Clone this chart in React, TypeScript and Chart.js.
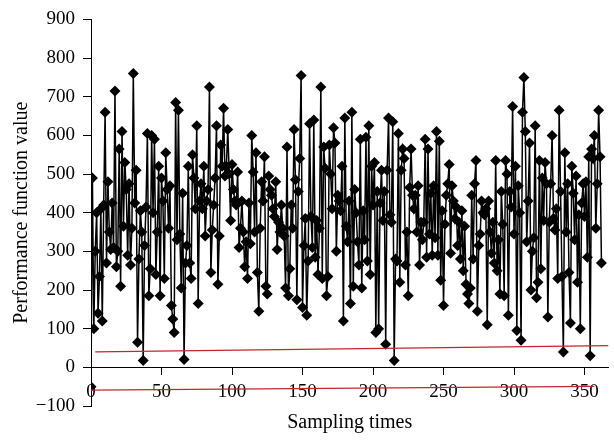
import React, { useEffect, useRef } from 'react';
import { Chart, registerables } from 'chart.js';

Chart.register(...registerables);

// Performance function value per sampling time (index = sampling time)
const performanceValues: number[] = [
  // 0-44
  -50, 490, 100, 300, 400, 140, 235, 410, 120, 420,
  660, 270, 480, 350, 305, 425, 310, 715, 260, 300,
  565, 210, 610, 365, 530, 460, 290, 475, 265, 360,
  760, 425, 510, 65, 280, 405, 350, 18, 315, 415,
  605, 185, 255, 600, 400,
  // 45-94
  590, 240, 350, 520, 185, 490, 430, 230, 555, 460,
  360, 470, 160, 125, 90, 685, 330, 665, 345, 205,
  450, 20, 270, 315, 520, 270, 230, 550, 490, 410,
  625, 165, 430, 475, 410, 520, 340, 430, 460, 725,
  245, 355, 420, 490, 625, 215, 340, 575, 520, 670,
  // 95-143
  495, 520, 615, 500, 380, 525, 460, 430, 420, 505,
  310, 360, 430, 350, 260, 325, 230, 425, 320, 600,
  505, 350, 555, 245, 145, 360, 480, 430, 545, 210,
  190, 495, 460, 445, 410, 390, 480, 305, 375, 350,
  420, 360, 340, 205, 570, 185, 255, 420, 360,
  // 144-192
  615, 485, 175, 455, 540, 755, 155, 315, 385, 135,
  275, 630, 390, 310, 640, 285, 380, 240, 360, 725,
  230, 570, 515, 185, 235, 575, 500, 410, 620, 580,
  300, 445, 430, 405, 520, 120, 645, 365, 325, 430,
  165, 660, 210, 460, 400, 325, 265, 590, 205,
  // 193-242
  405, 330, 595, 275, 625, 240, 520, 420, 530, 90,
  455, 100, 425, 510, 380, 455, 60, 510, 645, 395,
  375, 635, 18, 280, 275, 605, 220, 510, 565, 540,
  265, 350, 185, 465, 565, 445, 410, 445, 350, 470,
  265, 375, 330, 375, 590, 285, 565, 345, 450, 290,
  // 243-290
  470, 335, 610, 290, 585, 225, 405, 160, 370, 445,
  475, 525, 295, 470, 430, 385, 415, 315, 375, 280,
  405, 250, 365, 215, 190, 165, 205, 445, 280, 475,
  535, 145, 315, 345, 430, 400, 395, 410, 110, 430,
  350, 295, 375, 270, 535, 250, 330, 190,
  // 291-340
  455, 370, 185, 535, 500, 135, 455, 415, 675, 345,
  520, 95, 470, 400, 70, 660, 750, 610, 325, 430,
  580, 200, 300, 335, 625, 180, 220, 535, 255, 490,
  380, 530, 475, 130, 375, 475, 600, 385, 355, 410,
  230, 665, 455, 235, 40, 555, 350, 475, 245, 115,
  // 341-362
  520, 450, 330, 495, 220, 395, 100, 425, 475, 390,
  480, 285, 545, 30, 565, 540, 600, 360, 475, 665,
  545, 270,
];

// Red reference lines (endpoints)
const redUpperX = [3, 367];
const redUpperY = [40, 56];
const redLowerX = [0, 357];
const redLowerY = [-59, -49];

const xMin = 0;
const xMax = 367;
const xStep = 50;
const yMin = -100;
const yMax = 900;
const yStep = 100;

const xTitle = 'Sampling times';
const yTitle = 'Performance function value';

const FONT = 'Liberation Serif';
const RED = '#c3262e';

export default function App() {
  const ref = useRef<HTMLCanvasElement | null>(null);

  useEffect(() => {
    if (!ref.current) return;
    const mainData = performanceValues.map((v, i) => ({ x: i, y: v }));
    const upper = redUpperX.map((x, i) => ({ x, y: redUpperY[i] }));
    const lower = redLowerX.map((x, i) => ({ x, y: redLowerY[i] }));

    const chart = new Chart(ref.current, {
      type: 'line',
      data: {
        datasets: [
          {
            data: upper,
            borderColor: RED,
            borderWidth: 1.2,
            pointRadius: 0,
            xAxisID: 'x',
            yAxisID: 'y',
          },
          {
            data: lower,
            borderColor: RED,
            borderWidth: 1.2,
            pointRadius: 0,
            xAxisID: 'x',
            yAxisID: 'y',
          },
          {
            data: mainData,
            borderColor: '#000',
            borderWidth: 1.5,
            pointStyle: 'rectRot',
            pointRadius: 5.5,
            pointBackgroundColor: '#000',
            pointBorderColor: '#000',
            pointBorderWidth: 0,
            xAxisID: 'x',
            yAxisID: 'y',
          },
        ],
      },
      options: {
        animation: false,
        responsive: false,
        layout: { padding: { top: 16, right: 4, bottom: 0, left: 0 } },
        plugins: { legend: { display: false }, tooltip: { enabled: false } },
        scales: {
          x: {
            type: 'linear',
            position: { y: 0 } as any,
            min: xMin,
            max: xMax,
            ticks: {
              stepSize: xStep,
              includeBounds: false,
              color: '#000',
              padding: 6,
              maxRotation: 0,
              font: { family: FONT, size: 19 },
            },
            grid: {
              display: true,
              drawOnChartArea: false,
              drawTicks: true,
              tickLength: 7,
              color: '#000',
            },
            border: { display: true, color: '#000', width: 1 },
            title: { display: false },
          },
          x2: {
            type: 'linear',
            position: 'bottom',
            min: xMin,
            max: xMax,
            grid: { display: false, drawTicks: false },
            border: { display: false },
            ticks: { display: false },
            title: {
              display: true,
              text: xTitle,
              color: '#000',
              font: { family: FONT, size: 20 },
              padding: { top: 0, bottom: 5 },
            },
            afterFit: (s: any) => {
              s.height = 34;
            },
          },
          y: {
            type: 'linear',
            position: 'left',
            min: yMin,
            max: yMax,
            ticks: {
              stepSize: yStep,
              color: '#000',
              padding: 8,
              font: { family: FONT, size: 19 },
              callback: (v: any) => String(v).replace('-', '\u2212'),
            },
            grid: {
              display: true,
              drawOnChartArea: false,
              drawTicks: true,
              tickLength: 8,
              color: '#000',
            },
            border: { display: true, color: '#000', width: 1 },
            title: {
              display: true,
              text: yTitle,
              color: '#000',
              font: { family: FONT, size: 20 },
              padding: { top: 10, bottom: 0 },
            },
            afterFit: (s: any) => {
              s.width = 91;
            },
          },
        },
      },
    });
    return () => chart.destroy();
  }, []);

  return (
    <div style={{ position: 'absolute', left: 0, top: 0, width: 614, height: 440, background: '#fff' }}>
      <canvas ref={ref} width={614} height={440} style={{ display: 'block' }} />
    </div>
  );
}
